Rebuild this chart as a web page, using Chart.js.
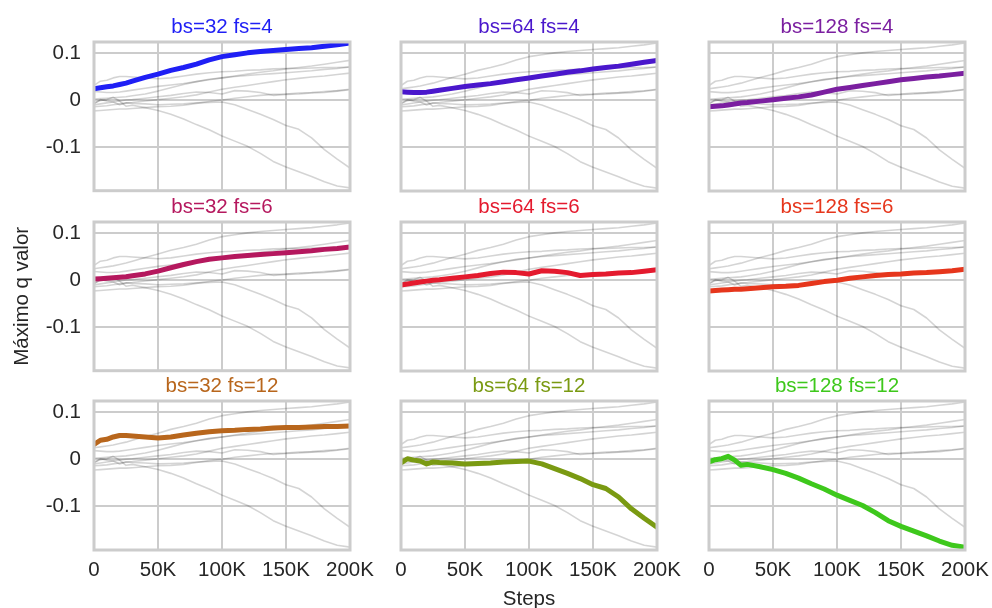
<!DOCTYPE html>
<html><head><meta charset="utf-8">
<script src="https://cdn.jsdelivr.net/npm/chart.js@4.4.1/dist/chart.umd.min.js"></script>
<style>
html,body{margin:0;padding:0;background:#fff;overflow:hidden;}
#wrap{position:relative;width:992px;height:608px;overflow:hidden;background:#fff;}
#wrap canvas{position:absolute;}
</style></head><body><div id="wrap"></div>
<script>
// ---- data ----
const steps = [0,5000,10000,15000,20000,25000,30000,40000,50000,60000,70000,80000,90000,100000,110000,120000,130000,140000,150000,160000,170000,180000,190000,200000];

const q_bs32_fs4   = [0.024,0.026,0.028,0.030,0.033,0.036,0.040,0.048,0.055,0.063,0.069,0.076,0.085,0.092,0.096,0.100,0.103,0.105,0.107,0.109,0.111,0.114,0.117,0.121];
const q_bs64_fs4   = [0.018,0.017,0.016,0.016,0.017,0.019,0.021,0.025,0.029,0.032,0.035,0.039,0.043,0.047,0.051,0.055,0.059,0.062,0.066,0.069,0.072,0.076,0.080,0.084];
const q_bs128_fs4  = [-0.014,-0.013,-0.012,-0.010,-0.008,-0.006,-0.005,-0.002,0.001,0.004,0.007,0.011,0.017,0.023,0.027,0.031,0.035,0.039,0.043,0.046,0.049,0.051,0.054,0.057];
const q_bs32_fs6   = [0.002,0.003,0.004,0.005,0.006,0.007,0.009,0.013,0.019,0.026,0.033,0.039,0.044,0.047,0.050,0.052,0.054,0.056,0.058,0.060,0.062,0.065,0.067,0.070];
const q_bs64_fs6   = [-0.010,-0.008,-0.006,-0.004,-0.002,0.000,0.001,0.004,0.007,0.010,0.014,0.017,0.016,0.013,0.020,0.019,0.016,0.010,0.012,0.013,0.015,0.016,0.019,0.022];
const q_bs128_fs6  = [-0.023,-0.022,-0.021,-0.020,-0.019,-0.019,-0.018,-0.016,-0.014,-0.013,-0.011,-0.007,-0.003,0.000,0.004,0.007,0.010,0.012,0.013,0.015,0.016,0.018,0.020,0.023];
const q_bs32_fs12  = [0.031,0.040,0.042,0.047,0.050,0.050,0.049,0.047,0.045,0.047,0.051,0.055,0.058,0.060,0.061,0.063,0.064,0.066,0.067,0.067,0.068,0.069,0.069,0.070];
const q_bs64_fs12  = [-0.008,0.001,-0.002,-0.004,-0.010,-0.006,-0.007,-0.008,-0.010,-0.009,-0.008,-0.006,-0.005,-0.004,-0.010,-0.020,-0.030,-0.041,-0.054,-0.062,-0.080,-0.105,-0.125,-0.144];
const q_bs128_fs12 = [-0.006,-0.001,0.001,0.006,-0.002,-0.013,-0.011,-0.016,-0.022,-0.030,-0.040,-0.052,-0.063,-0.076,-0.087,-0.098,-0.113,-0.130,-0.142,-0.152,-0.162,-0.173,-0.182,-0.186];

const panelTitles = ['bs=32 fs=4','bs=64 fs=4','bs=128 fs=4','bs=32 fs=6','bs=64 fs=6','bs=128 fs=6','bs=32 fs=12','bs=64 fs=12','bs=128 fs=12'];
const panelColors = ['#1f1ff5','#4a17cc','#7b1fa0','#b5185e','#e41a2e','#e6361c','#b8661c','#7a9a12','#3ec81c'];

const xTickValues = [0,50000,100000,150000,200000];
const xTickLabels = ['0','50K','100K','150K','200K'];
const yTickValues = [-0.1,0,0.1];
const yTickLabels = ['-0.1','0','0.1'];
const xAxisTitle = 'Steps';
const yAxisTitle = 'Máximo q valor';

// ---- drawing ----
const series = [q_bs32_fs4,q_bs64_fs4,q_bs128_fs4,q_bs32_fs6,q_bs64_fs6,q_bs128_fs6,q_bs32_fs12,q_bs64_fs12,q_bs128_fs12];
const FONT = "'Liberation Sans', Arial, Helvetica, sans-serif";
const FS = 20.5;
const TEXT = '#262626';
const GRID = '#cccccc';
const colLeft = [94,401,709], rowTop = [42,222,401], PW = 256, PH = 149;
const Y_MIN = -0.192, Y_MAX = 0.123;
const wrap = document.getElementById('wrap');
const pts = s => steps.map((x,i)=>({x:x, y:s[i]}));

const framePlugin = {
  id:'frame',
  afterDatasetsDraw(chart){
    const {ctx, chartArea:a} = chart;
    ctx.save();
    ctx.strokeStyle = GRID; ctx.lineWidth = 3;
    ctx.strokeRect(a.left, a.top, a.right-a.left, a.bottom-a.top);
    ctx.restore();
  }
};

function makeConfig(r, c, k, yW, xH, padL, padR, padB, padT){
  const datasets = [{data:pts(series[k]), borderColor:panelColors[k], borderWidth:5, order:0}];
  series.forEach(s=>datasets.push({data:pts(s), borderColor:'rgba(0,0,0,0.17)', borderWidth:1.6, order:1}));
  return {
    type:'line',
    data:{datasets},
    options:{
      responsive:false, maintainAspectRatio:false, animation:false, devicePixelRatio:1, events:[],
      layout:{padding:{left:padL-yW, right:padR, top:0, bottom:padB-xH}},
      elements:{point:{radius:0}, line:{tension:0, borderCapStyle:'round', borderJoinStyle:'round'}},
      plugins:{
        legend:{display:false}, tooltip:{enabled:false},
        title:{display:true, fullSize:false, text:panelTitles[k], color:panelColors[k],
          font:{family:FONT, size:FS, weight:'normal', lineHeight:1.2},
          padding:{top:7, bottom:padT-7-FS*1.2}}
      },
      scales:{
        x:{type:'linear', min:0, max:200000,
          afterBuildTicks:s=>{s.ticks = xTickValues.map(v=>({value:v}));},
          afterFit:s=>{s.height = xH;},
          grid:{color:GRID, lineWidth:2, drawTicks:false}, border:{display:false},
          ticks:{display:r===2, padding:8, color:TEXT, font:{family:FONT, size:FS}, maxRotation:0, autoSkip:false,
            callback:(v,i)=>xTickLabels[i]},
          title:{display:k===7, text:xAxisTitle, color:TEXT, font:{family:FONT, size:FS, lineHeight:1.2}, padding:{top:0,bottom:0}}
        },
        y:{type:'linear', min:Y_MIN, max:Y_MAX,
          afterBuildTicks:s=>{s.ticks = yTickValues.map(v=>({value:v}));},
          afterFit:s=>{s.width = yW;},
          grid:{color:GRID, lineWidth:2, drawTicks:false}, border:{display:false},
          ticks:{display:c===0, padding:13, color:TEXT, font:{family:FONT, size:FS}, autoSkip:false,
            callback:(v,i)=>yTickLabels[i]},
          title:{display:k===3, text:yAxisTitle, color:TEXT, font:{family:FONT, size:FS, lineHeight:1.2}, padding:{top:0,bottom:0}}
        }
      }
    },
    plugins:[framePlugin]
  };
}

for (let r=0;r<3;r++) for (let c=0;c<3;c++){
  const k = r*3+c;
  const yW = c===0 ? 84 : 0;
  const padL = c===0 ? 90 : 30;
  const padR = 36;
  const xH = r===2 ? 62 : 0;
  const padB = r===2 ? 62 : 16;
  const padT = 34;
  let cw = padL+PW+padR, chh = padT+PH+padB;
  const canvas = document.createElement('canvas');
  wrap.appendChild(canvas);
  let chart = null;
  for (let it=0; it<3; it++){
    if (chart) chart.destroy();
    canvas.width = cw; canvas.height = chh;
    canvas.style.width = cw+'px'; canvas.style.height = chh+'px';
    chart = new Chart(canvas, makeConfig(r, c, k, yW, xH, padL, padR, padB, padT));
    const ca = chart.chartArea;
    const dw = PW - (ca.right - ca.left), dh = PH - (ca.bottom - ca.top);
    if (Math.abs(dw) < 0.5 && Math.abs(dh) < 0.5) break;
    cw = Math.round(cw + dw); chh = Math.round(chh + dh);
  }
  const ca = chart.chartArea;
  canvas.style.left = (colLeft[c]-ca.left)+'px';
  canvas.style.top = (rowTop[r]-ca.top)+'px';
}
</script></body></html>
